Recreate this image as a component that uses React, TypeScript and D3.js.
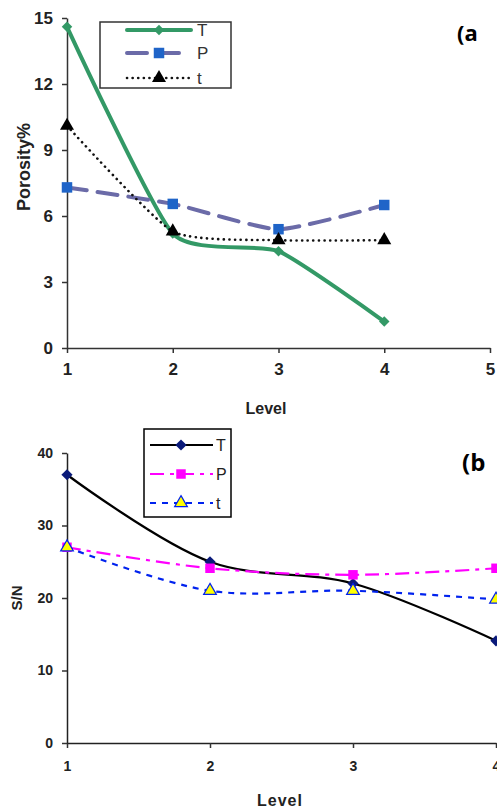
import React, { useEffect, useRef } from 'react';
import * as d3 from 'd3';

// Shared category axis (level)
const levels = [1, 2, 3, 4];

// Chart (a): porosity %
const porosityT = [14.6, 5.2, 4.4, 1.2];
const porosityP = [7.3, 6.55, 5.4, 6.5];
const porosityt = [10.1, 5.3, 4.9, 4.9];
const porosityTicksY = [0, 3, 6, 9, 12, 15];
const porosityTicksX = [1, 2, 3, 4, 5];

// Chart (b): S/N ratio
const snT = [37, 25, 22, 14.1];
const snP = [27, 24.1, 23.2, 24.1];
const snt = [27, 21, 21, 19.8];
const snTicksY = [0, 10, 20, 30, 40];
const snTicksX = [1, 2, 3, 4];

const FONT = "'Liberation Sans', Arial, sans-serif";

const App = () => {
  const ref = useRef<SVGSVGElement>(null);

  useEffect(() => {
    const svg = d3.select(ref.current);
    svg.selectAll('*').remove();

    const styleAxis = (g, fontSize) => {
      g.select('.domain').attr('stroke', '#333').attr('stroke-width', 1.5);
      g.selectAll('.tick line').attr('stroke', '#333').attr('stroke-width', 1.5);
      g.selectAll('.tick text')
        .attr('fill', '#222')
        .style('font-family', FONT)
        .style('font-weight', 'bold')
        .style('font-size', fontSize + 'px');
    };

    const marker = (g, type, x, y, size, fill, stroke?) => {
      const sym = type === 'diamond' ? d3.symbolDiamond2 : type === 'square' ? d3.symbolSquare : d3.symbolTriangle;
      g.append('path')
        .attr('d', d3.symbol().type(sym).size(size))
        .attr('transform', `translate(${x},${y})`)
        .attr('fill', fill)
        .attr('stroke', stroke || 'none')
        .attr('stroke-width', stroke ? 1.2 : 0);
    };

    // ---------- chart (a) ----------
    const xa = d3.scaleLinear().domain([1, 5]).range([67, 490]);
    const ya = d3.scaleLinear().domain([0, 15]).range([348, 18]);
    const ga = svg.append('g');

    ga.append('g')
      .attr('transform', `translate(0,${ya(0)})`)
      .call(d3.axisBottom(xa).tickValues(porosityTicksX).tickFormat(d3.format('d')).tickSize(5).tickSizeOuter(0).tickPadding(10))
      .call(g => styleAxis(g, 17));
    ga.append('g')
      .attr('transform', `translate(${xa(1)},0)`)
      .call(d3.axisLeft(ya).tickValues(porosityTicksY).tickFormat(d3.format('d')).tickSize(5).tickSizeOuter(0).tickPadding(9))
      .call(g => styleAxis(g, 17));

    const seriesA = [
      { name: 'T', values: porosityT, color: '#339966', width: 4, dash: null, cap: 'round', m: 'diamond', ms: 70, mf: '#339966', mstroke: null },
      { name: 'P', values: porosityP, color: '#6b6ba8', width: 4, dash: '20,11', cap: 'round', m: 'square', ms: 110, mf: '#1f64c8', mstroke: null },
      { name: 't', values: porosityt, color: '#111', width: 2.6, dash: '0.1,5.5', cap: 'round', m: 'triangle', ms: 85, mf: '#000', mstroke: null },
    ];

    const lineA = d3.line<number>()
      .x((d, i) => xa(levels[i]))
      .y(d => ya(d))
      .curve(d3.curveCardinal.tension(0.45));

    seriesA.forEach(s => {
      ga.append('path')
        .attr('d', lineA(s.values))
        .attr('fill', 'none')
        .attr('stroke', s.color)
        .attr('stroke-width', s.width)
        .attr('stroke-linecap', s.cap)
        .attr('stroke-dasharray', s.dash);
    });
    seriesA.forEach(s => {
      s.values.forEach((v, i) => marker(ga, s.m, xa(levels[i]), ya(v), s.ms, s.mf, s.mstroke));
    });

    // legend (a)
    ga.append('rect').attr('x', 100).attr('y', 22).attr('width', 131).attr('height', 66)
      .attr('fill', 'white').attr('stroke', '#333').attr('stroke-width', 1.5);
    seriesA.forEach((s, i) => {
      const ly = [30, 53, 78][i];
      ga.append('line').attr('x1', 127).attr('x2', 191).attr('y1', ly).attr('y2', ly)
        .attr('stroke', s.color).attr('stroke-width', s.width)
        .attr('stroke-linecap', s.cap)
        .attr('stroke-dasharray', s.name === 'P' ? '20,12' : s.dash);
      marker(ga, s.m, 159, ly, s.ms, s.mf, s.mstroke);
      ga.append('text').attr('x', 197).attr('y', ly + 6).text(s.name)
        .style('font-family', FONT).style('font-size', '17px').attr('fill', '#333');
    });

    ga.append('text').attr('x', 457).attr('y', 41).text('(a')
      .style('font-family', "'Open Sans', sans-serif").style('font-weight', 'bold').style('font-size', '22px');
    ga.append('text').attr('x', 266).attr('y', 414).attr('text-anchor', 'middle').text('Level')
      .style('font-family', FONT).style('font-weight', 'bold').style('font-size', '16px').attr('fill', '#222');
    ga.append('text').attr('transform', 'translate(30,167) rotate(-90)').attr('text-anchor', 'middle').text('Porosity%')
      .style('font-family', FONT).style('font-weight', 'bold').style('font-size', '18px').attr('fill', '#222');

    // ---------- chart (b) ----------
    const xb = d3.scaleLinear().domain([1, 4]).range([67, 496]);
    const yb = d3.scaleLinear().domain([0, 40]).range([743, 453]);
    const gb = svg.append('g');

    gb.append('g')
      .attr('transform', `translate(0,${yb(0)})`)
      .call(d3.axisBottom(xb).tickValues(snTicksX).tickFormat(d3.format('d')).tickSize(5).tickSizeOuter(0).tickPadding(13))
      .call(g => styleAxis(g, 14));
    gb.append('g')
      .attr('transform', `translate(${xb(1)},0)`)
      .call(d3.axisLeft(yb).tickValues(snTicksY).tickFormat(d3.format('d')).tickSize(5).tickSizeOuter(0).tickPadding(9))
      .call(g => styleAxis(g, 14));
    gb.selectAll('.domain').attr('stroke', '#222');

    const seriesB = [
      { name: 'T', values: snT, color: '#000', width: 2.2, dash: null, m: 'diamond', ms: 80, mf: '#0a1a7a', mstroke: null },
      { name: 'P', values: snP, color: '#ff00ff', width: 2.2, dash: '14,6,4,6', m: 'square', ms: 90, mf: '#ff00ff', mstroke: null },
      { name: 't', values: snt, color: '#0022ee', width: 2.2, dash: '6,6', m: 'triangle', ms: 70, mf: '#ffff00', mstroke: '#0022ee' },
    ];

    const lineB = d3.line<number>()
      .x((d, i) => xb(levels[i]))
      .y(d => yb(d))
      .curve(d3.curveCatmullRom.alpha(0.5));

    seriesB.forEach(s => {
      gb.append('path')
        .attr('d', lineB(s.values))
        .attr('fill', 'none')
        .attr('stroke', s.color)
        .attr('stroke-width', s.width)
        .attr('stroke-dasharray', s.dash);
    });
    seriesB.forEach(s => {
      s.values.forEach((v, i) => marker(gb, s.m, xb(levels[i]), yb(v), s.ms, s.mf, s.mstroke));
    });

    // legend (b)
    gb.append('rect').attr('x', 144).attr('y', 429).attr('width', 87).attr('height', 88)
      .attr('fill', 'white').attr('stroke', '#000').attr('stroke-width', 1.5);
    seriesB.forEach((s, i) => {
      const ly = [445, 474, 503][i];
      gb.append('line').attr('x1', 150).attr('x2', 213).attr('y1', ly).attr('y2', ly)
        .attr('stroke', s.color).attr('stroke-width', s.width)
        .attr('stroke-dasharray', s.dash);
      marker(gb, s.m, 181, ly, s.ms, s.mf, s.mstroke);
      gb.append('text').attr('x', 216).attr('y', ly + 6).text(s.name)
        .style('font-family', FONT).style('font-size', '16px').attr('fill', '#222');
    });

    gb.append('text').attr('x', 462).attr('y', 471).text('(b')
      .style('font-family', "'Open Sans', sans-serif").style('font-weight', 'bold').style('font-size', '24px');
    gb.append('text').attr('x', 280).attr('y', 806).attr('text-anchor', 'middle').text('Level')
      .style('font-family', FONT).style('font-weight', 'bold').style('font-size', '16px')
      .style('letter-spacing', '1px').attr('fill', '#222');
    gb.append('text').attr('transform', 'translate(22,598) rotate(-90)').attr('text-anchor', 'middle').text('S/N')
      .style('font-family', FONT).style('font-weight', 'bold').style('font-size', '15px').attr('fill', '#222');
  }, []);

  return (
    <svg ref={ref} width={497} height={810}
      style={{ position: 'absolute', left: 0, top: 0, background: 'white' }} />
  );
};

export default App;
